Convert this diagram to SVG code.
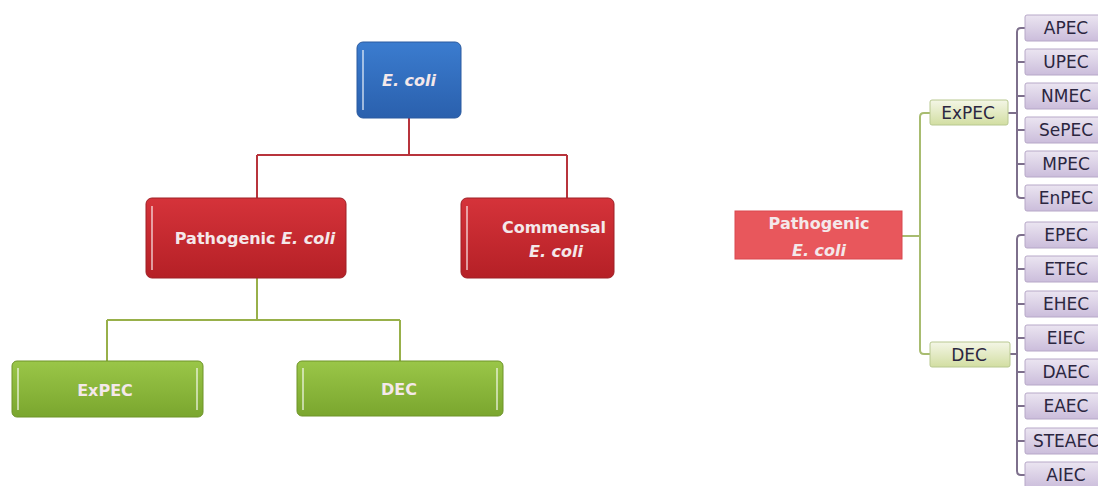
<svg xmlns="http://www.w3.org/2000/svg" width="1098" height="486" viewBox="0 0 1098 486">
<defs>
<linearGradient id="gBlue" x1="0" y1="0" x2="0" y2="1"><stop offset="0" stop-color="#3b7ccf"/><stop offset="1" stop-color="#2a60ad"/></linearGradient>
<linearGradient id="gRed" x1="0" y1="0" x2="0" y2="1"><stop offset="0" stop-color="#d5333a"/><stop offset="1" stop-color="#b52026"/></linearGradient>
<linearGradient id="gGreen" x1="0" y1="0" x2="0" y2="1"><stop offset="0" stop-color="#9ac648"/><stop offset="1" stop-color="#7aa62e"/></linearGradient>
<linearGradient id="gLeaf" x1="0" y1="0" x2="0" y2="1"><stop offset="0" stop-color="#f4f6e6"/><stop offset="1" stop-color="#d2dea2"/></linearGradient>
<linearGradient id="gPurple" x1="0" y1="0" x2="0" y2="1"><stop offset="0" stop-color="#ebe5f1"/><stop offset="1" stop-color="#cbbddb"/></linearGradient>
</defs>
<style>
.big{font-family:"DejaVu Sans",Verdana,sans-serif;font-weight:bold;font-size:16px;fill:#f4e8ea;text-anchor:middle}
.it{font-style:italic}
.small{font-family:"DejaVu Sans",Verdana,sans-serif;font-size:17px;fill:#2b2640;text-anchor:middle}
.hl{stroke:#ffffff;stroke-opacity:0.55;stroke-width:2;fill:none}
.red{stroke:#b8343c;stroke-width:2;fill:none}
.grn{stroke:#98b04a;stroke-width:2;fill:none}
.pur{stroke:#7d6f8c;stroke-width:2;fill:none}
.lgr{stroke:#a8bc70;stroke-width:2;fill:none}
.pbox{fill:url(#gPurple);stroke:#b7a8c8;stroke-width:1}
</style>
<rect width="1098" height="486" fill="#ffffff"/>
<g id="connectors">
<path class="red" d="M409 118V155M257 155H567M257 155V198M567 155V198"/>
<path class="grn" d="M257 277V320M107 320H400M107 320V362M400 320V362"/>
<path class="lgr" d="M902 236H920M930 113H924Q920 113 920 117V350Q920 354 924 354H930"/>
<path class="pur" d="M1008 113H1017M1025 28H1021Q1017 28 1017 32V194Q1017 198 1021 198H1025M1017 62H1025M1017 96H1025M1017 130H1025M1017 164H1025"/>
<path class="pur" d="M1010 354H1017M1025 235H1021Q1017 235 1017 239V471Q1017 475 1021 475H1025M1017 269H1025M1017 304H1025M1017 338H1025M1017 372H1025M1017 406H1025M1017 441H1025"/>
</g>
<g id="ecoli">
<rect x="357" y="42" width="104" height="76" rx="6" fill="url(#gBlue)" stroke="#2a5aa0"/>
<path class="hl" d="M363 50V110"/>
<text class="big it" x="409" y="86">E. coli</text>
</g>
<g id="pathogenic">
<rect x="146" y="198" width="200" height="80" rx="6" fill="url(#gRed)" stroke="#9e2026"/>
<path class="hl" d="M152 206V270"/>
<text class="big" x="255" y="244">Pathogenic <tspan class="it">E. coli</tspan></text>
</g>
<g id="commensal">
<rect x="461" y="198" width="153" height="80" rx="6" fill="url(#gRed)" stroke="#9e2026"/>
<path class="hl" d="M467 206V270"/>
<text class="big" x="554" y="233" font-size="15.5">Commensal</text>
<text class="big it" x="556" y="257" font-size="15.5">E. coli</text>
</g>
<g id="expec">
<rect x="12" y="361" width="191" height="56" rx="5" fill="url(#gGreen)" stroke="#6e9428"/>
<path class="hl" d="M18 368V410M197 368V410"/>
<text class="big" x="105" y="396" font-size="18">ExPEC</text>
</g>
<g id="dec">
<rect x="297" y="361" width="206" height="55" rx="5" fill="url(#gGreen)" stroke="#6e9428"/>
<path class="hl" d="M303 368V410M497 368V410"/>
<text class="big" x="399" y="395" font-size="18">DEC</text>
</g>
<g id="pathogenic-right">
<rect x="735" y="211" width="167" height="48" fill="#e8575c" stroke="#d9484e"/>
<text class="big" x="819" y="229" font-size="17">Pathogenic</text>
<text class="big it" x="819" y="256" font-size="17">E. coli</text>
</g>
<g id="expec-small">
<rect x="930" y="100" width="78" height="25" rx="2" fill="url(#gLeaf)" stroke="#b8c890"/>
<text class="small" x="968" y="119">ExPEC</text>
</g>
<g id="dec-small">
<rect x="930" y="342" width="80" height="25" rx="2" fill="url(#gLeaf)" stroke="#b8c890"/>
<text class="small" x="969" y="361">DEC</text>
</g>
<g id="apec"><rect class="pbox" x="1025" y="15" width="80" height="26" rx="2"/><text class="small" x="1066" y="34">APEC</text></g>
<g id="upec"><rect class="pbox" x="1025" y="49" width="80" height="26" rx="2"/><text class="small" x="1066" y="68">UPEC</text></g>
<g id="nmec"><rect class="pbox" x="1025" y="83" width="80" height="26" rx="2"/><text class="small" x="1066" y="102">NMEC</text></g>
<g id="sepec"><rect class="pbox" x="1025" y="117" width="80" height="26" rx="2"/><text class="small" x="1066" y="136">SePEC</text></g>
<g id="mpec"><rect class="pbox" x="1025" y="151" width="80" height="26" rx="2"/><text class="small" x="1066" y="170">MPEC</text></g>
<g id="enpec"><rect class="pbox" x="1025" y="185" width="80" height="26" rx="2"/><text class="small" x="1066" y="204">EnPEC</text></g>
<g id="epec"><rect class="pbox" x="1025" y="222" width="80" height="26" rx="2"/><text class="small" x="1066" y="241">EPEC</text></g>
<g id="etec"><rect class="pbox" x="1025" y="256" width="80" height="26" rx="2"/><text class="small" x="1066" y="275">ETEC</text></g>
<g id="ehec"><rect class="pbox" x="1025" y="291" width="80" height="26" rx="2"/><text class="small" x="1066" y="310">EHEC</text></g>
<g id="eiec"><rect class="pbox" x="1025" y="325" width="80" height="26" rx="2"/><text class="small" x="1066" y="344">EIEC</text></g>
<g id="daec"><rect class="pbox" x="1025" y="359" width="80" height="26" rx="2"/><text class="small" x="1066" y="378">DAEC</text></g>
<g id="eaec"><rect class="pbox" x="1025" y="393" width="80" height="26" rx="2"/><text class="small" x="1066" y="412">EAEC</text></g>
<g id="steaec"><rect class="pbox" x="1025" y="428" width="80" height="26" rx="2"/><text class="small" x="1066" y="447">STEAEC</text></g>
<g id="aiec"><rect class="pbox" x="1025" y="462" width="80" height="26" rx="2"/><text class="small" x="1066" y="481">AIEC</text></g>
</svg>
